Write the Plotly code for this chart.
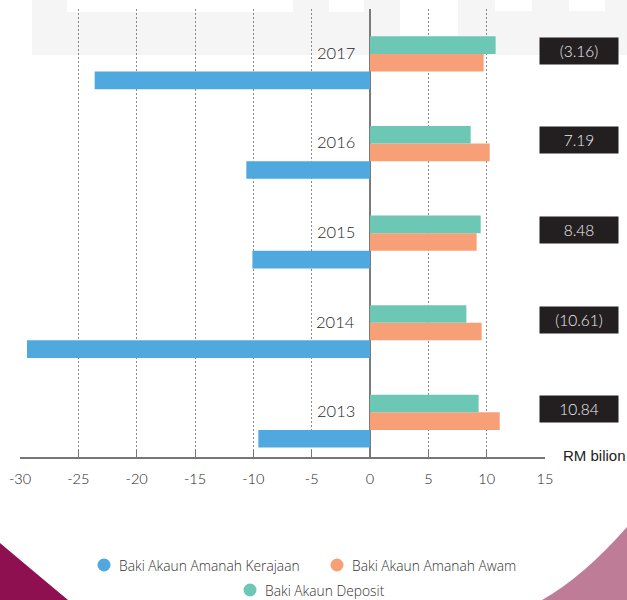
import plotly.graph_objects as go

# ---- data (RM billion) ----
years = ["2013", "2014", "2015", "2016", "2017"]
kerajaan = [-9.57, -29.4, -10.08, -10.6, -23.6]   # Baki Akaun Amanah Kerajaan
awam = [11.12, 9.57, 9.14, 10.26, 9.74]           # Baki Akaun Amanah Awam
deposit = [9.31, 8.26, 9.49, 8.63, 10.77]         # Baki Akaun Deposit
net_balance = [10.84, -10.61, 8.48, 7.19, -3.16]  # boxed totals per year

tick_vals = [-30, -25, -20, -15, -10, -5, 0, 5, 10, 15]
tick_text = ["-30", "-25", "-20", "-15", "-10", "-5", "0", "5", "10", "15"]

series_names = ["Baki Akaun Amanah Kerajaan", "Baki Akaun Amanah Awam", "Baki Akaun Deposit"]
series_colors = ["#4FA8DE", "#F7A077", "#6CC7B5"]

W, H = 627, 600
L, R, T, B = 20, 545, 9, 457


def px(x):
    return (x - L) / (R - L)


def py(y):
    return (B - y) / (B - T)


fig = go.Figure()
for name, vals, col in zip(series_names, [kerajaan, awam, deposit], series_colors):
    fig.add_trace(go.Bar(
        y=years, x=vals, orientation="h", name=name,
        marker=dict(color=col, line=dict(width=0)),
        showlegend=False,
    ))

shapes = []
# light grey header band with white notches
shapes.append(dict(type="rect", xref="paper", yref="paper", layer="below",
                   x0=px(32), x1=px(640), y0=py(55), y1=py(-5),
                   fillcolor="#F5F5F5", line=dict(width=0)))
for x0, x1, y1 in [(67, 293, 12), (329, 364, 12), (495, 532, 11), (569, 605, 11), (400, 458, 55)]:
    shapes.append(dict(type="rect", xref="paper", yref="paper", layer="below",
                       x0=px(x0), x1=px(x1), y0=py(y1), y1=py(-5),
                       fillcolor="#FFFFFF", line=dict(width=0)))


def path(cmds):
    out = []
    for cmd, pts in cmds:
        out.append(cmd + " " + " ".join(f"{px(a):.5f},{py(b):.5f}" for a, b in pts))
    return " ".join(out) + " Z"


# corner decorations
shapes.append(dict(type="path", xref="paper", yref="paper", layer="below",
                   path=path([("M", [(-5, 539)]), ("L", [(0, 543)]),
                              ("Q", [(32, 570), (68, 600)]),
                              ("L", [(70, 606)]), ("L", [(-5, 606)])]),
                   fillcolor="#8F1050", line=dict(width=0)))
shapes.append(dict(type="path", xref="paper", yref="paper", layer="below",
                   path=path([("M", [(632, 522)]), ("L", [(627, 527)]),
                              ("Q", [(583, 577), (542, 600)]),
                              ("L", [(540, 606)]), ("L", [(632, 606)])]),
                   fillcolor="#BF7C97", line=dict(width=0)))

# legend: circles + labels
legend_items = [(104, 565, 0), (337, 565, 1), (250, 590, 2)]
annotations = []
for cx, cy, i in legend_items:
    shapes.append(dict(type="circle", xref="paper", yref="paper",
                       x0=px(cx - 6.5), x1=px(cx + 6.5), y0=py(cy + 6.5), y1=py(cy - 6.5),
                       fillcolor=series_colors[i], line=dict(width=0)))
    annotations.append(dict(xref="paper", yref="paper", x=px(cx + 13), y=py(cy),
                            xanchor="left", yanchor="middle", showarrow=False,
                            text=series_names[i],
                            font=dict(family="Open Sans", size=13.8, color="#333333", weight=300)))

# year labels beside the zero line (category index positions)
for idx, yr in enumerate(years):
    annotations.append(dict(x=0, y=idx, xref="x", yref="y", xanchor="right", yanchor="middle",
                            xshift=-13, yshift=10, showarrow=False, text=yr,
                            font=dict(family="Lato", size=16.5, color="#1E1E1E", weight=300)))

# boxed net figures on the right
for idx, v in enumerate(net_balance):
    txt = f"({abs(v):.2f})" if v < 0 else f"{v:.2f}"
    annotations.append(dict(x=px(579), y=idx, xref="paper", yref="y", xanchor="center",
                            yanchor="middle", yshift=12, showarrow=False, text=txt,
                            width=78, height=26, bgcolor="#231F20", borderpad=0,
                            font=dict(family="Lato", size=15.5, color="#EEEEEE", weight=300)))

# unit label
annotations.append(dict(xref="paper", yref="paper", x=px(561), y=py(455), xanchor="left",
                        yanchor="middle", showarrow=False, text="RM bilion",
                        font=dict(family="Liberation Sans", size=15, color="#222222")))

fig.update_layout(
    width=W, height=H,
    margin=dict(l=L, r=W - R, t=T, b=H - B, pad=0),
    barmode="group", bargap=0.41, bargroupgap=0,
    paper_bgcolor="#FFFFFF", plot_bgcolor="rgba(0,0,0,0)",
    shapes=shapes, annotations=annotations,
    showlegend=False,
    xaxis=dict(
        range=[-30, 15], tickvals=tick_vals, ticktext=tick_text,
        ticks="inside", ticklen=7, tickcolor="#777777", tickwidth=1.2,
        showline=True, linecolor="#777777", linewidth=1.5,
        showgrid=True, gridcolor="#8A8A8A", griddash="2px,2px", gridwidth=1,
        zeroline=True, zerolinecolor="#7A7A7A", zerolinewidth=1.5,
        tickfont=dict(family="Lato", size=14.5, color="#222222", weight=300),
        ticklabelstandoff=8, fixedrange=True,
    ),
    yaxis=dict(
        type="category", categoryorder="array", categoryarray=years,
        range=[-0.40, 4.60], showticklabels=False, ticks="",
        showgrid=False, zeroline=False, showline=False, fixedrange=True,
    ),
)

fig.write_html("out.html")
